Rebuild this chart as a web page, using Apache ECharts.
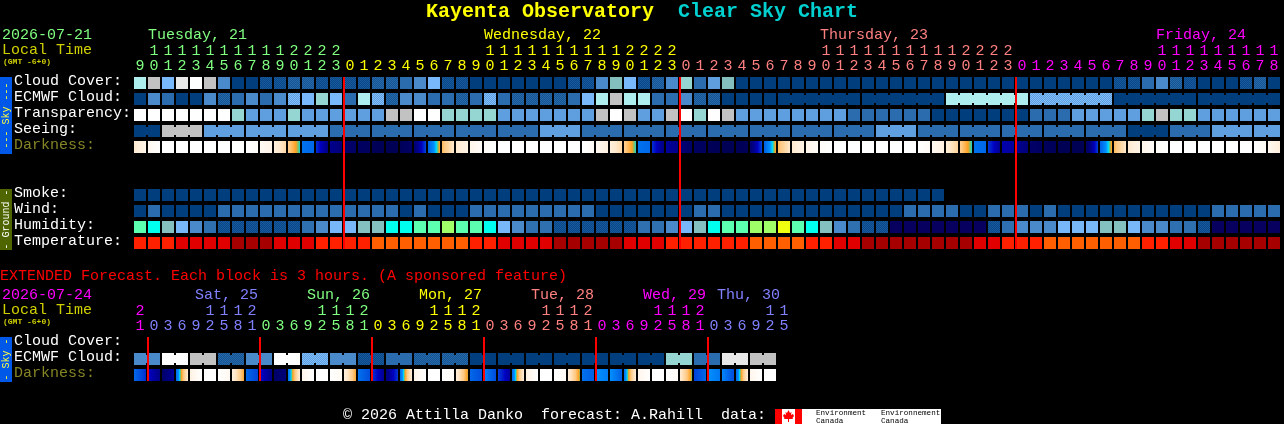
<!DOCTYPE html>
<html>
<head>
<meta charset="utf-8">
<style>html,body{margin:0;padding:0;background:#000}#c{width:1284px;height:424px}</style>
<script src="https://cdn.jsdelivr.net/npm/echarts@6/dist/echarts.min.js"></script>
</head>
<body>
<div id="c"></div>
<script>
// ---- Data: hours of the forecast columns ----
const hourly = [9,10,11,12,13,14,15,16,17,18,19,20,21,22,23,
  0,1,2,3,4,5,6,7,8,9,10,11,12,13,14,15,16,17,18,19,20,21,22,23,
  0,1,2,3,4,5,6,7,8,9,10,11,12,13,14,15,16,17,18,19,20,21,22,23,
  0,1,2,3,4,5,6,7,8,9,10,11,12,13,14,15,16,17,18];
const hourlyDay = hourly.map((h,i)=> i<15?0 : i<39?1 : i<63?2 : 3);
const threeHourly = [21,0,3,6,9,12,15,18,21,0,3,6,9,12,15,18,21,0,3,6,9,12,15,18,21,0,3,6,9,12,15,18,21,0,3,6,9,12,15,18,21,0,3,6,9,12,15];
const threeHourlyDay = [3,4,4,4,4,4,4,4,4,0,0,0,0,0,0,0,0,1,1,1,1,1,1,1,1,2,2,2,2,2,2,2,2,3,3,3,3,3,3,3,3,4,4,4,4,4,4];
const midnightCols = [15,39,63];
const extMidnightCols = [1,9,17,25,33,41];

const rowNames = ['Cloud Cover:','ECMWF Cloud:','Transparency:','Seeing:','Darkness:','','','Smoke:','Wind:','Humidity:','Temperature:'];
const extRowNames = ['Cloud Cover:','ECMWF Cloud:','Darkness:'];

// ---- Forecast levels, one per column ----
const cloudCover = [9,10,6,11,12,10,4,0,0,1,1,2,2,1,1,1,1,2,2,3,4,6,1,1,0,0,0,0,0,0,0,1,1,4,7,6,1,2,4,8,3,5,7,0,0,0,0,0,0,0,0,0,0,0,0,0,0,0,0,0,0,0,0,0,0,0,0,0,0,0,1,1,3,4,2,1,0,0,0,1,2,0];
const ecmwfCloud = [0,4,3,0,0,4,2,3,4,3,4,13,6,8,6,3,9,13,2,4,4,3,3,2,3,13,3,2,2,2,2,3,6,9,10,9,9,3,3,4,2,2,0,0,0,0,0,0,0,0,0,0,0,0,0,0,0,0,9,9,9,9,9,9,13,13,13,13,13,13,0,0,0,0,0,0,0,0,0,0,0,0];
const transparency = [12,12,12,12,12,12,12,8,5,5,5,8,5,5,5,5,5,5,10,10,12,12,8,8,8,8,5,5,5,5,5,5,5,10,12,10,5,5,10,12,8,12,10,5,5,5,5,5,5,5,5,3,3,3,3,3,3,0,0,0,0,0,0,0,3,3,3,5,5,5,5,5,8,10,8,8,5,5,5,5,5,5];
const seeing = [0,0,10,10,10,5,5,5,5,5,5,5,5,5,3,3,3,3,3,3,3,3,3,3,3,3,3,3,3,5,5,5,3,3,3,3,3,3,3,3,3,3,3,3,3,3,3,3,3,3,3,3,3,5,5,5,3,3,3,3,3,3,3,3,3,3,3,3,3,3,3,0,0,0,3,3,3,5,5,5,5,5];
const smoke = [0,0,0,0,0,0,0,0,0,0,0,0,0,0,0,0,0,0,0,0,0,0,0,0,0,0,0,0,0,0,0,0,0,0,0,0,0,0,0,0,0,0,0,0,0,0,0,0,0,0,0,0,0,0,0,0,0,0];
const wind = [0,3,0,0,0,0,3,3,3,3,3,3,3,3,3,3,3,3,3,0,3,0,0,0,3,3,3,3,3,3,3,3,3,0,0,0,0,0,0,0,3,3,0,0,0,0,0,0,0,0,0,0,0,0,0,3,3,3,3,0,0,3,3,3,0,3,0,0,0,0,0,0,0,0,0,0,0,3,3,3,3,3];
const humidity = [7,6,5,4,3,2,1,1,1,1,1,1,2,3,4,4,5,5,6,6,7,7,8,7,7,6,4,3,2,2,1,1,1,1,1,1,2,2,3,4,5,6,7,7,8,8,9,7,6,5,3,2,1,1,0,0,0,0,0,0,0,1,2,3,3,3,4,4,4,5,5,4,3,3,2,2,1,0,0,0,0,0];
const temperature = [2,2,2,1,1,1,1,0,0,0,1,1,1,2,2,2,2,3,3,3,3,3,3,3,2,2,1,1,1,1,0,0,0,0,0,1,1,1,2,2,2,2,2,2,3,3,3,3,2,2,1,1,0,0,0,0,0,0,0,0,1,1,2,2,2,3,3,3,3,3,3,3,2,2,1,1,0,0,0,0,0,0];
const extEcmwf = [4,4,12,12,10,10,2,2,4,4,12,12,13,13,4,4,1,1,3,3,2,2,2,2,0,0,0,0,0,0,0,0,0,0,0,0,0,0,8,8,3,3,11,11,10,10];

// Darkness: scale position at the left and right edge of each block
const darkLeft = [.80,.92,1,1,1,1,1,1,1,.94,.84,.68,.44,.31,.17,.09,.06,.04,.03,.04,.09,.40,.63,.80,.90,.97,1,1,1,1,1,1,1,.92,.84,.68,.44,.31,.20,.12,.06,.04,.03,.04,.09,.40,.63,.80,.90,.97,1,1,1,1,1,1,1,.92,.82,.68,.44,.32,.22,.19,.08,.05,.03,.03,.05,.40,.63,.80,.90,.97,1,1,1,1,1,1,1,.92];
const darkRight = [.90,.99,1,1,1,1,1,1,.97,.88,.72,.545,.42,.15,.12,.07,.05,.03,.03,.07,.34,.60,.78,.88,.96,1,1,1,1,1,1,1,.95,.86,.72,.545,.42,.15,.16,.07,.05,.03,.03,.03,.34,.60,.78,.88,.96,1,1,1,1,1,1,1,.95,.86,.70,.545,.42,.18,.20,.12,.06,.04,.03,.03,.33,.60,.78,.88,.96,1,1,1,1,1,1,1,.94,.84];
const extDarkLeft = [.42,.26,.08,.42,.86,1,1,.84,.42,.27,.08,.44,.90,1,1,.84,.44,.32,.14,.42,.88,1,1,.82,.42,.47,.33,.42,.86,1,1,.82,.44,.50,.50,.44,.90,1,1,.80,.33,.50,.48,.42,.90,1];
const extDarkRight = [.30,.16,.20,.80,1,1,.92,.60,.34,.16,.12,.82,1,1,.93,.60,.36,.18,.32,.82,1,1,.95,.575,.36,.36,.20,.82,1,1,.95,.565,.40,.46,.40,.82,.99,1,.96,.56,.42,.45,.36,.82,1,1];

// Blocks drawn as one joined run [first, last]
const seeingRuns = [[0,1],[2,4],[5,7],[8,10],[11,13],[14,16],[17,19],[20,22],[23,25],[26,28],[29,31],[32,34],[35,37],[38,40],[41,43],[44,46],[47,49],[50,52],[53,55],[56,58],[59,61],[62,64],[65,67],[68,70],[71,73],[74,76],[77,79],[80,81]];
const ecmwfRuns = [[46,51],[52,57],[58,63],[64,69],[70,75],[76,81]];
const extRuns = [[0,1],[2,3],[4,5],[6,7],[8,9],[10,11],[12,13],[14,15],[16,17],[18,19],[20,21],[22,23],[24,25],[26,27],[28,29],[30,31],[32,33],[34,35],[36,37],[38,39],[40,41],[42,43],[44,45]];

const dayLabels = [['Tuesday, 21',148,0],['Wednesday, 22',484,1],['Thursday, 23',820,2],['Friday, 24',1156,3]];
const extDayLabels = [['Sat, 25',195,4],['Sun, 26',307,0],['Mon, 27',419,1],['Tue, 28',531,2],['Wed, 29',643,3],['Thu, 30',717,4]];

// ---- Styles ----
const dayColors = ['#80ff80','#ffff00','#ff8080','#ff00ff','#8080ff'];
const dither = (a,b) => {
  const cv = document.createElement('canvas'); cv.width = cv.height = 2;
  const g = cv.getContext('2d');
  g.fillStyle = a; g.fillRect(0,0,2,2);
  g.fillStyle = b; g.fillRect(0,0,1,1); g.fillRect(1,1,1,1);
  return {image: cv, repeat: 'repeat'};
};
const skyColors = ['#003e7e',dither('#08488a','#1a5a9a'),dither('#145494','#286aa8'),'#2b6cae','#4a8acb','#5f9fe0','#78b8fb','#82bfbd','#96d6d2','#aeeeee','#c2c2c2','#e8e8e8','#fefefe',dither('#5f9fe0','#80bdfb')];
const humidColors = ['#08005f',dither('#08488a','#1a5a9a'),'#2f70b0','#4a8acb','#78b8f8','#84c0bf','#00ffee','#5cffb0','#a0ff68','#f0ff10'];
const tempColors = ['#a60000','#e00000','#ff2000','#ff5f00'];
const darkScale = [[0,'#00004a'],[.10,'#000070'],[.18,'#000090'],[.25,'#0000c0'],[.33,'#0040d8'],[.42,'#0068e8'],[.50,'#0090ff'],[.54,'#00d8ff'],[.56,'#60c880'],[.59,'#ffa020'],[.66,'#ffc880'],[.78,'#ffe8cc'],[.90,'#fff6ec'],[1,'#ffffff']];

const hex = s => [1,3,5].map(i=>parseInt(s.substr(i,2),16));
function scaleColor(t){
  for(let i=1;i<darkScale.length;i++){
    if(t<=darkScale[i][0]){
      const [t0,c0]=darkScale[i-1],[t1,c1]=darkScale[i];
      const f=(t-t0)/(t1-t0),a=hex(c0),b=hex(c1);
      return 'rgb('+a.map((v,k)=>Math.round(v+(b[k]-v)*f)).join(',')+')';
    }
  }
  return '#ffffff';
}
function darkFill(a,b){
  if(a===b) return scaleColor(a);
  const stops=[{offset:0,color:scaleColor(a)}];
  const lo=Math.min(a,b),hi=Math.max(a,b);
  const inner=darkScale.filter(s=>s[0]>lo&&s[0]<hi).map(s=>({offset:(s[0]-a)/(b-a),color:s[1]}));
  inner.sort((p,q)=>p.offset-q.offset);
  return {type:'linear',x:0,y:0,x2:1,y2:0,colorStops:stops.concat(inner,[{offset:1,color:scaleColor(b)}])};
}

// ---- Mark builders ----
function joined(runs,col){ return runs.some(r=>col>=r[0]&&col<r[1]); }
function cellData(rows){
  const out=[];
  rows.forEach(([vals,row,colors,runs])=>vals.forEach((v,c)=>{
    out.push({value:[c,row,v],fill:colors[v],join:!!runs&&joined(runs,c)&&vals[c+1]===v});
  }));
  return out;
}
const cellRender=(data)=>(params,api)=>{
  const d=data[params.dataIndex];
  const p=api.coord([api.value(0),api.value(1)]),s=api.size([1,1]);
  const w=s[0]-2,h=s[1]-4,x=p[0]-w/2,y=p[1]-h/2;
  const children=[{type:'rect',shape:{x:x,y:y,width:w,height:h},style:{fill:d.fill}}];
  if(d.join) children.push({type:'rect',shape:{x:x+w,y:y+2,width:2,height:h-4},style:{fill:d.fill}});
  return {type:'group',children:children};
};
function cellSeries(rows,axis){
  const data=cellData(rows);
  return {type:'custom',xAxisIndex:axis,yAxisIndex:axis,silent:true,animation:false,z:2,clip:false,data:data.map(d=>d.value),renderItem:cellRender(data),encode:{x:0,y:1}};
}
function darkSeries(left,right,row,axis){
  return {type:'custom',xAxisIndex:axis,yAxisIndex:axis,silent:true,animation:false,z:2,clip:false,encode:{x:0,y:1},
    data:left.map((v,c)=>[c,row,v,right[c]]),
    renderItem:(params,api)=>{
      const p=api.coord([api.value(0),api.value(1)]),s=api.size([1,1]);
      const w=s[0]-2,h=s[1]-4;
      return {type:'rect',shape:{x:p[0]-w/2,y:p[1]-h/2,width:w,height:h},style:{fill:darkFill(api.value(2),api.value(3))}};
    }};
}
function midnightSeries(cols,firstRow,lastRow,axis){
  return {type:'custom',xAxisIndex:axis,yAxisIndex:axis,silent:true,animation:false,z:20,clip:false,encode:{x:0},
    data:cols.map(c=>[c]),
    renderItem:(params,api)=>{
      const s=api.size([1,1]);
      const top=api.coord([api.value(0),firstRow]),bot=api.coord([api.value(0),lastRow]);
      const h=s[1]-4;
      return {type:'rect',z2:100,shape:{x:top[0]-s[0]/2,y:top[1]-h/2,width:2,height:bot[1]-top[1]+h},style:{fill:'#ff0000'}};
    }};
}

// ---- Axes ----
const MONO='"Liberation Mono", monospace';
const rich={};
dayColors.forEach((c,i)=>{rich['d'+i]={color:c,fontFamily:MONO,fontSize:15,lineHeight:15};});
function hourAxis(hours,days,grid){
  return {type:'category',gridIndex:grid,position:'top',data:hours.map((h,i)=>i+':'+h),
    axisLine:{show:false},axisTick:{show:false},splitLine:{show:false},
    axisLabel:{show:true,interval:0,margin:1,hideOverlap:false,
      formatter:v=>{
        const [i,h]=v.split(':');const t='d'+days[+i];
        return h>=10?'{'+t+'|'+Math.floor(h/10)+'}\n{'+t+'|'+(h%10)+'}':'{'+t+'|'+h+'}';
      },rich:rich}};
}
function rowAxis(names,grid){
  return {type:'category',gridIndex:grid,inverse:true,data:names,
    axisLine:{show:false},axisTick:{show:false},splitLine:{show:false},
    axisLabel:{show:true,interval:0,align:'left',verticalAlign:'bottom',lineHeight:4,margin:119,fontFamily:MONO,fontSize:15,
      color:v=>v==='Darkness:'?'#858526':'#ffffff'}};
}

// ---- Text and furniture around the grids ----
const txt=(text,x,y,color,size,extra)=>({type:'text',x:x,y:y,silent:true,z:10,
  style:Object.assign({text:text,fill:color,font:(extra&&extra.bold?'bold ':'')+size+'px '+MONO,textVerticalAlign:'middle',textAlign:'left'})});
const vbar=(y,h,color,text,textColor)=>[
  {type:'rect',silent:true,z:9,shape:{x:0,y:y,width:12,height:h},style:{fill:color}},
  {type:'text',silent:true,z:10,x:6,y:y+h/2,rotation:Math.PI/2,style:{text:text,fill:textColor,font:'10px '+MONO,textAlign:'center',textVerticalAlign:'middle'}}
];
const graphic=[
  txt('Kayenta Observatory',426,12,'#ffff00',20,{bold:true}),
  txt('Clear Sky Chart',678,12,'#00d0d0',20,{bold:true}),
  txt('2026-07-21',2,35,'#80ff80',15),
  txt('Local Time',2,50,'#d0d000',15),
  txt('(GMT -6+0)',3,62,'#d0d000',8,{bold:true}),
  txt('EXTENDED Forecast. Each block is 3 hours. (A sponsored feature)',0,276,'#ff0000',15),
  txt('2026-07-24',2,295,'#ff00ff',15),
  txt('Local Time',2,310,'#d0d000',15),
  txt('(GMT -6+0)',3,322,'#d0d000',8,{bold:true}),
  txt('\u00a9 2026 Attilla Danko  forecast: A.Rahill  data:',343,415,'#ffffff',15),
  ...dayLabels.map(d=>txt(d[0],d[1],35,dayColors[d[2]],15)),
  ...extDayLabels.map(d=>txt(d[0],d[1],295,dayColors[d[2]],15)),
  ...vbar(77,77,'#0058e8','--- Sky ---','#ffff40'),
  ...vbar(189,61,'#4f6600','- Ground -','#ffffff'),
  ...vbar(337,45,'#0058e8','- Sky -','#ffff40'),
  {type:'rect',silent:true,z:9,shape:{x:775,y:409,width:166,height:15},style:{fill:'#ffffff'}},
  {type:'rect',silent:true,z:10,shape:{x:775,y:409,width:7,height:15},style:{fill:'#ff0000'}},
  {type:'rect',silent:true,z:10,shape:{x:795,y:409,width:7,height:15},style:{fill:'#ff0000'}},
  {type:'polygon',silent:true,z:10,shape:{points:[[788.5,410],[790,413],[791.5,412],[791,415],[793,414],[794,416],[792.5,418],[793,419],[789,419],[789,422],[788,422],[788,419],[784,419],[784.5,418],[783,416],[784,414],[786,415],[785.5,412],[787,413]]},style:{fill:'#ff0000'}},
  txt('Environment',816,413,'#000000',7.6),
  txt('Canada',816,420.5,'#000000',7.6),
  txt('Environnement',881,413,'#000000',7.6),
  txt('Canada',881,420.5,'#000000',7.6)
];

const option={
  backgroundColor:'#000000',
  animation:false,
  graphic:graphic,
  grid:[
    {left:133,top:75,width:82*14,height:11*16},
    {left:133,top:335,width:47*14,height:3*16}
  ],
  xAxis:[hourAxis(hourly,hourlyDay,0),hourAxis(threeHourly,threeHourlyDay,1)],
  yAxis:[rowAxis(rowNames,0),rowAxis(extRowNames,1)],
  series:[
    cellSeries([
      [cloudCover,0,skyColors],
      [ecmwfCloud,1,skyColors,ecmwfRuns],
      [transparency,2,skyColors],
      [seeing,3,skyColors,seeingRuns],
      [smoke,7,skyColors],
      [wind,8,skyColors],
      [humidity,9,humidColors],
      [temperature,10,tempColors]
    ],0),
    darkSeries(darkLeft,darkRight,4,0),
    cellSeries([[extEcmwf,1,skyColors,extRuns]],1),
    darkSeries(extDarkLeft,extDarkRight,2,1),
    midnightSeries(midnightCols,0,10,0),
    midnightSeries(extMidnightCols,0,2,1)
  ]
};
const chart=echarts.init(document.getElementById('c'),null,{renderer:'canvas',width:1284,height:424,devicePixelRatio:1});
chart.setOption(option);
</script>
</body>
</html>
